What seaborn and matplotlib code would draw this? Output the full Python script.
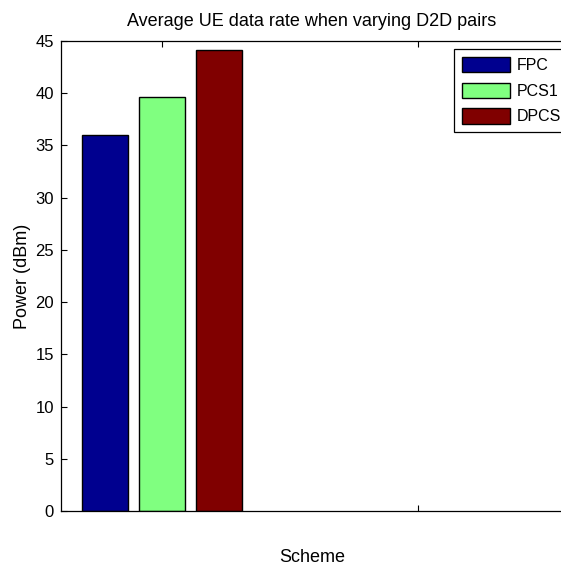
import matplotlib
matplotlib.use("Agg")
import matplotlib.pyplot as plt
import seaborn as sns
import pandas as pd

# Average power per scheme
schemes = ["FPC", "PCS1", "DPCS"]
power_dbm = [36.0, 39.6, 44.1]
groups = ["1", "2"]
colors = ["#00008F", "#80FF80", "#800000"]
yticks = [0, 5, 10, 15, 20, 25, 30, 35, 40, 45]

df = pd.DataFrame({"group": ["1"] * len(schemes), "scheme": schemes, "power": power_dbm})

sns.set_theme(style="white")
plt.rcParams["font.family"] = ["Liberation Sans", "DejaVu Sans"]
plt.rcParams["text.color"] = "black"
plt.rcParams["axes.labelcolor"] = "black"
plt.rcParams["xtick.color"] = "black"
plt.rcParams["ytick.color"] = "black"

W, H = 561, 564
fig = plt.figure(figsize=(W / 100, H / 100), dpi=100)
ax = fig.add_axes([61 / W, 53 / H, 502 / W, 470 / H])

sns.barplot(data=df, x="group", y="power", hue="scheme", order=groups,
            hue_order=schemes, palette=colors, width=0.667, gap=0.2,
            edgecolor="black", linewidth=1.0, saturation=1, ax=ax, legend=True)

ax.set_xlim(-0.395, 1.566)
ax.set_ylim(0, 45)
ax.set_yticks(yticks)
ax.set_yticklabels([str(v) for v in yticks], fontsize=12)
ax.set_xticks([0, 1])
ax.set_xticklabels(["", ""])
ax.tick_params(axis="both", direction="in", length=4, width=0.8, color="black",
               labelcolor="black", top=True, bottom=True, left=True, right=False, pad=5)
for s in ax.spines.values():
    s.set_color("black")
    s.set_linewidth(0.9)

ax.set_title("Average UE data rate when varying D2D pairs", fontsize=13, pad=11, color="black")
ax.set_ylabel("Power (dBm)", fontsize=13, labelpad=3, color="black")
ax.set_xlabel("Scheme", fontsize=13, labelpad=22, color="black")

leg = ax.legend(loc="upper left", bbox_to_anchor=(454 / W, 1 - 49 / H),
                bbox_transform=fig.transFigure, fontsize=11.5, frameon=True,
                fancybox=False, edgecolor="black", framealpha=1,
                handlelength=3.0, handleheight=1.1, labelspacing=0.6,
                handletextpad=0.4, borderpad=0.5, borderaxespad=0)
leg.get_frame().set_linewidth(0.9)

fig.savefig("out.png", dpi=100)
